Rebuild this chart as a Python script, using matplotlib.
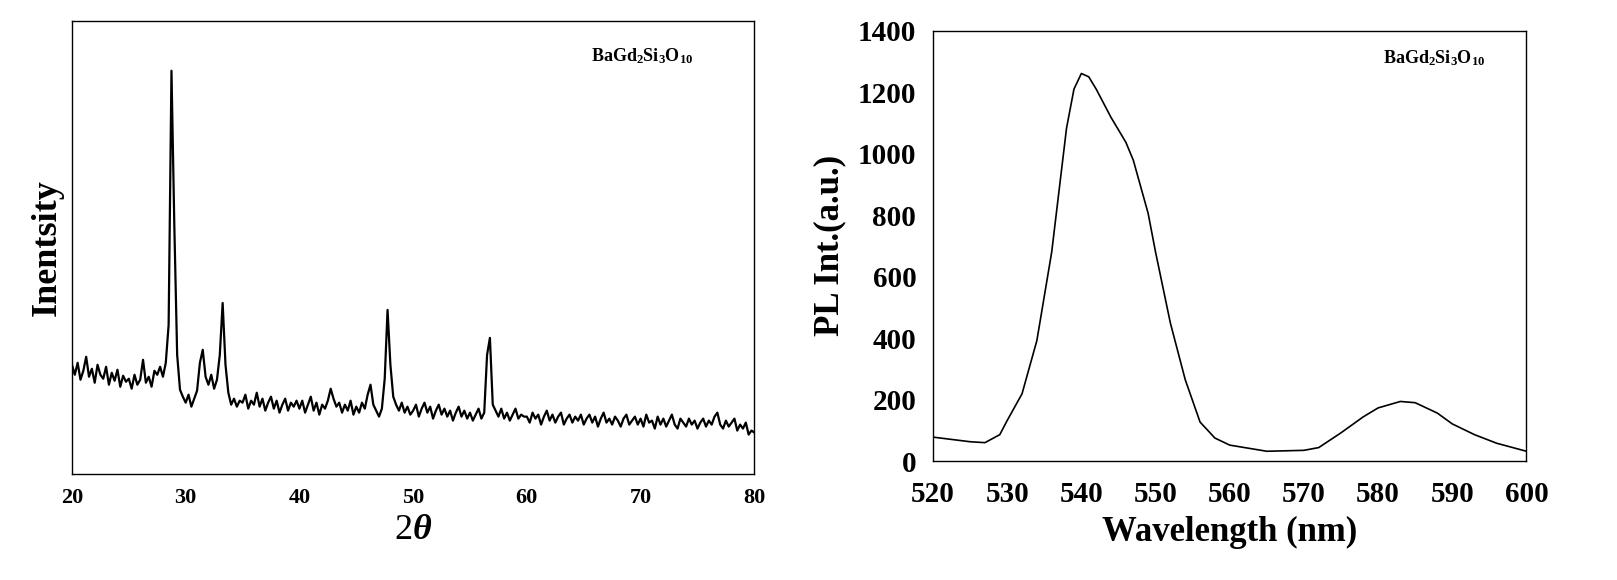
import matplotlib
matplotlib.use("Agg")
import matplotlib.pyplot as plt
import numpy as np

plt.rcParams["font.family"] = "Liberation Serif"
plt.rcParams["font.weight"] = "bold"
plt.rcParams["mathtext.fontset"] = "custom"
plt.rcParams["mathtext.rm"] = "Liberation Serif:bold"
plt.rcParams["mathtext.it"] = "Liberation Serif:italic:bold"
plt.rcParams["mathtext.default"] = "rm"

# ----- XRD pattern (2theta step 0.25 deg, arbitrary intensity) -----
xrd_2theta = np.arange(20.0, 80.001, 0.25)
xrd_int = [
    110, 100, 112, 95, 104, 118, 98, 106, 92, 110, 100, 96, 108, 90, 102, 94, 105, 88, 99, 93,
    96, 86, 100, 90, 95, 115, 92, 98, 88, 104, 100, 108, 98, 112, 150, 405, 250, 120, 85, 78,
    72, 80, 68, 76, 84, 112, 125, 98, 90, 100, 86, 95, 120, 172, 110, 82, 70, 76, 68, 74,
    72, 80, 66, 74, 70, 82, 68, 76, 64, 72, 78, 66, 74, 62, 70, 76, 64, 72, 68, 74,
    66, 74, 62, 70, 78, 64, 72, 60, 70, 66, 74, 86, 76, 68, 72, 62, 70, 64, 74, 60,
    68, 62, 72, 66, 80, 90, 70, 64, 58, 66, 96, 165, 110, 78, 70, 64, 72, 62, 68, 60,
    64, 70, 58, 66, 72, 62, 68, 56, 64, 70, 60, 66, 58, 64, 54, 62, 68, 58, 64, 56,
    62, 54, 60, 66, 56, 62, 120, 137, 70, 64, 58, 66, 56, 62, 54, 60, 66, 56, 60, 58,
    58, 52, 62, 56, 60, 50, 58, 64, 54, 60, 52, 58, 62, 50, 56, 60, 52, 58, 54, 60,
    50, 56, 60, 52, 58, 48, 56, 62, 52, 56, 50, 58, 54, 48, 56, 60, 50, 54, 58, 50,
    56, 48, 60, 52, 54, 46, 58, 50, 56, 48, 54, 60, 50, 46, 56, 52, 48, 56, 50, 54,
    46, 52, 56, 48, 54, 50, 58, 62, 50, 46, 54, 48, 52, 56, 44, 50, 46, 52, 40, 44,
    42,
]

# ----- PL emission spectrum -----
pl_wl = [520, 525, 527, 529, 530, 532, 534, 536, 538, 539, 540, 541, 542, 544, 546, 547,
         549, 550, 552, 554, 556, 558, 560, 565, 570, 572, 575, 578, 580, 583, 585, 588,
         590, 593, 596, 600]
pl_int = [78, 63, 60, 86, 132, 219, 392, 680, 1083, 1210, 1261, 1250, 1210, 1118, 1037, 979,
          806, 680, 449, 265, 127, 75, 52, 32, 35, 44, 92, 144, 173, 194, 190, 156,
          121, 86, 58, 32]

label = "BaGd$_2$Si$_3$O$_{10}$"

fig = plt.figure(figsize=(16.17, 5.8), dpi=100)
ax1 = fig.add_axes([0.0445, 0.182, 0.422, 0.782])
ax2 = fig.add_axes([0.577, 0.205, 0.367, 0.742])

ax1.plot(xrd_2theta, xrd_int[:len(xrd_2theta)], color="black", lw=1.6)
ax1.set_xlim(20, 80)
ax1.set_ylim(0, 455)
ax1.set_yticks([])
ax1.set_xticks(range(20, 81, 10))
ax1.tick_params(axis="x", length=0, labelsize=16, pad=10)
ax1.set_xlabel("2$\\mathit{\\theta}$", fontsize=26, labelpad=4)
ax1.set_ylabel("Inentsity", fontsize=26, fontweight="bold", labelpad=6)
ax1.text(0.836, 0.923, label, transform=ax1.transAxes, ha="center", va="center", fontsize=13)

ax2.plot(pl_wl, pl_int, color="black", lw=1.2)
ax2.set_xlim(520, 600)
ax2.set_ylim(0, 1400)
ax2.set_xticks(range(520, 601, 10))
ax2.set_yticks(range(0, 1401, 200))
ax2.tick_params(length=0, labelsize=21)
ax2.tick_params(axis="x", pad=14)
ax2.tick_params(axis="y", pad=12)
ax2.set_xlabel("Wavelength (nm)", fontsize=25, fontweight="bold", labelpad=6)
ax2.set_ylabel("PL Int.(a.u.)", fontsize=25, fontweight="bold", labelpad=8)
ax2.text(0.845, 0.937, label, transform=ax2.transAxes, ha="center", va="center", fontsize=13)

for ax in (ax1, ax2):
    for s in ax.spines.values():
        s.set_linewidth(1.0)

fig.savefig("out.png", dpi=100)
